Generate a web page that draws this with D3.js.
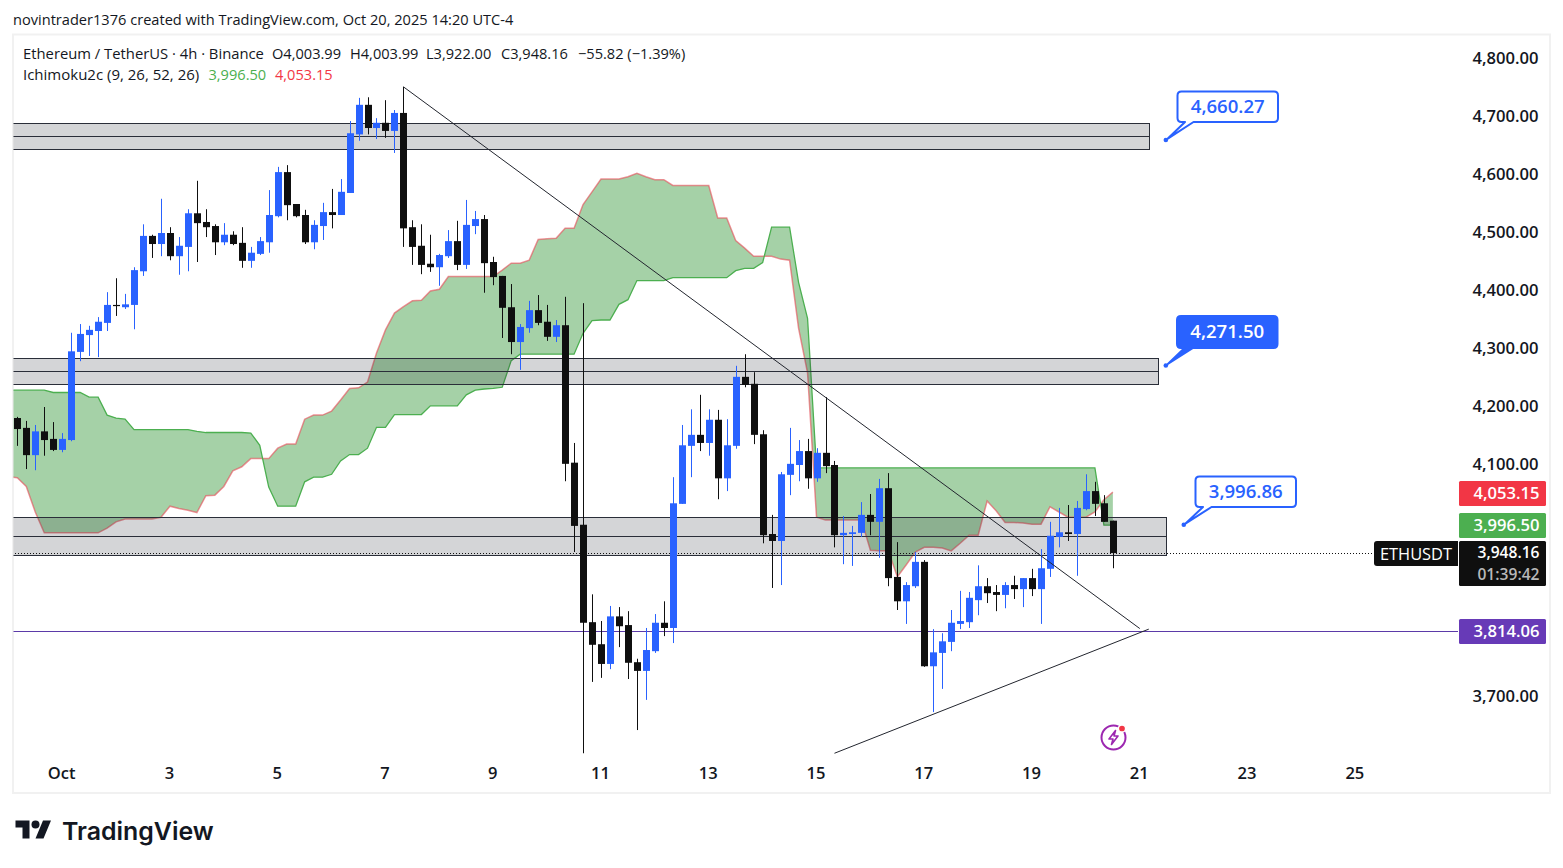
<!DOCTYPE html>
<html><head><meta charset="utf-8">
<script src="https://cdn.jsdelivr.net/npm/d3@7"></script>
<style>
html,body{margin:0;padding:0;background:#fff;overflow:hidden}
svg{display:block}
text{font-family:"Open Sans","Noto Sans",sans-serif;}
</style></head><body><svg id="c" width="1563" height="868"></svg>
<script>
const opens=[4181,4164,4117,4158,4145,4126,4143,4295,4324,4331,4345,4376,4372,4376,4434,4495,4481,4500,4460,4476,4534,4519,4512,4484,4497,4483,4452,4464,4484,4529,4605,4550,4531,4484,4512,4536,4531,4569,4670,4721,4681,4690,4676,4707,4510,4478,4447,4441,4460,4486,4445,4512,4524,4450,4426,4372,4312,4336,4367,4347,4321,4341,4104,3997,3829,3791,3757,3839,3824,3760,3745,3779,3828,3819,4033,4133,4152,4138,4178,4077,4133,4252,4240,4153,3981,3969,4083,4100,4124,4077,4121,4100,3979,3981,3983,4014,4002,4060,3907,3865,3891,3933,3753,3776,3795,3826,3829,3867,3891,3881,3876,3893,3886,3905,3886,3921,3976,3984,3981,4024,4055,4034,4003.99];
const highs=[4183,4176,4169,4200,4174,4155,4328,4343,4340,4355,4398,4422,4395,4441,4515,4497,4559,4510,4493,4541,4590,4541,4515,4517,4503,4510,4476,4493,4574,4614,4617,4550,4540,4522,4552,4576,4593,4693,4733,4734,4698,4729,4712,4752,4522,4515,4497,4464,4505,4521,4557,4538,4531,4459,4426,4412,4343,4383,4393,4376,4350,4390,4138,4379,3877,3831,3857,3855,3848,3766,3819,3843,3865,4079,4169,4196,4221,4196,4195,4179,4271,4291,4260,4160,4014,4088,4164,4143,4145,4129,4217,4107,4012,3995,4036,4050,4076,4086,3967,3898,3950,3936,3817,3810,3850,3883,3881,3927,3905,3893,3898,3909,3905,3921,3955,4002,4026,4031,4038,4084,4071,4048,4003.99];
const lows=[4133,4093,4091,4116,4124,4122,4141,4279,4288,4286,4331,4357,4369,4334,4426,4457,4460,4453,4428,4434,4450,4493,4462,4479,4479,4440,4440,4462,4466,4527,4522,4527,4481,4472,4488,4508,4531,4569,4659,4670,4662,4664,4638,4476,4445,4429,4433,4409,4457,4436,4438,4498,4397,4410,4319,4291,4264,4328,4341,4314,4312,4072,3950,3603,3726,3733,3748,3786,3731,3643,3695,3776,3805,3793,4033,4079,4124,4116,4041,4055,4128,4234,4136,3965,3888,3893,4048,4072,4059,4071,4086,3958,3929,3926,3976,3979,3940,3891,3850,3826,3888,3752,3674,3714,3779,3817,3819,3841,3862,3848,3853,3869,3855,3874,3826,3907,3958,3969,3909,4022,4012,4002,3922];
const closes=[4162,4117,4158,4143,4126,4145,4296,4326,4333,4347,4376,4374,4377,4436,4495,4481,4500,4460,4478,4534,4517,4510,4484,4497,4481,4452,4466,4486,4531,4605,4548,4529,4484,4514,4536,4531,4571,4672,4721,4681,4690,4676,4707,4508,4476,4445,4441,4462,4486,4445,4514,4524,4448,4424,4371,4312,4338,4367,4345,4321,4341,4102,3995,3828,3790,3757,3839,3822,3759,3745,3781,3828,3819,4034,4134,4152,4138,4178,4077,4134,4252,4238,4152,3979,3969,4084,4102,4124,4077,4121,4098,3979,3983,3984,4014,4002,4060,3905,3865,3893,3933,3753,3777,3796,3828,3831,3871,3891,3879,3876,3893,3886,3905,3886,3922,3978,3984,3981,4026,4055,4033,4002,3948.16];
// Ichimoku spans, first value sits one bar before the first candle
const spanA=[4229,4229,4229,4229,4229,4225,4225,4225,4225,4217,4217,4186,4181,4179,4161,4161,4161,4161,4161,4161,4161,4158,4156,4156,4156,4156,4156,4155,4134,4062,4029,4029,4029,4071,4079,4079,4084,4107,4118,4118,4129,4165,4165,4187,4187,4187,4187,4202,4202,4202,4202,4221,4229,4231,4232,4234,4280,4291,4291,4291,4291,4291,4291,4291,4327,4349,4350,4350,4377,4385,4418,4418,4418,4418,4423,4423,4423,4423,4423,4423,4423,4435,4439,4439,4449,4510,4510,4510,4415,4353,4095,4095,4095,4095,4095,4095,4095,4095,4095,4095,4095,4095,4095,4095,4095,4095,4095,4095,4095,4095,4095,4095,4095,4095,4095,4095,4095,4095,4095,4095,4095,4095,3996.5,3996.5];
const spanB=[4080,4078,4063,4019,3983,3983,3983,3983,3983,3983,3983,3991,4002,4007,4007,4007,4007,4010,4029,4025,4022,4018,4047,4048,4063,4090,4097,4111,4111,4111,4129,4136,4136,4179,4186,4186,4193,4212,4232,4233,4243,4293,4333,4362,4373,4383,4384,4400,4403,4425,4425,4425,4425,4425,4425,4436,4448,4448,4453,4489,4490,4491,4508,4508,4549,4571,4593,4593,4593,4597,4603,4597,4592,4592,4582,4582,4582,4582,4582,4526,4526,4487,4474,4460,4460,4460,4455,4453,4336,4259,4010,4005,4005,4005,4005,4005,3953,3952,3952,3907,3928,3950,3958,3958,3957,3952,3965,3979,3979,4038,4021,4001,4001,4000,3998,3998,4028,4019,4010,4010,4010,4019,4040,4053.15];
const priceTicks=[4800,4700,4600,4500,4400,4300,4200,4100,3700];
const dateBars=[5,17,29,41,53,65,77,89,101,113,125,137,149];
const dateLabels=["Oct","3","5","7","9","11","13","15","17","19","21","23","25"];
const zoneTops=[4689,4284,4010];
const zoneMids=[4667,4262,3977];
const zoneBottoms=[4645,4239,3945];
const zoneEnds=[126,127,127.9];
const lastPrice=3948.16, targetPrice=3814.06, spanALast=3996.5, spanBLast=4053.15;
const trendBars=[[43,125],[91,126]];
const trendPrices=[[4752,3818],[3603,3817]];
const calloutLabels=["4,660.27","4,271.50","3,996.86"];
const calloutBars=[127.9,127.9,129.9];
const calloutPrices=[4660.27,4271.5,3996.86];

const BLUE="#2962ff",BLACK="#0f0f0f",INK="#131722";
const W=1563,H=868;
const svg=d3.select("#c");
const x=d3.scaleLinear().domain([0,122]).range([17.3,17.3+8.98*122]);
const y=d3.scaleLinear().domain([4800,3700]).range([59,697]);
const bars=d3.range(opens.length);
const snap=v=>Math.round(v)+.5;

svg.append("rect").attr("x",13).attr("y",34.5).attr("width",1537).attr("height",758.5)
  .attr("fill","#fff").attr("stroke","#f1f1f1").attr("stroke-width",2);
svg.append("defs").append("clipPath").attr("id","pane").append("rect")
  .attr("x",13.5).attr("y",35).attr("width",1444.5).attr("height",757);
const g=svg.append("g").attr("clip-path","url(#pane)");

// Cloud
const spanIdx=d3.range(spanA.length);
g.append("path").datum(spanIdx)
  .attr("d",d3.area().x(i=>x(i-1)).y0(i=>y(spanA[i])).y1(i=>y(spanB[i])))
  .attr("fill","#4ca350").attr("fill-opacity",0.5);
g.append("path").datum(spanIdx)
  .attr("d",d3.line().x(i=>x(i-1)).y(i=>y(spanB[i])))
  .attr("fill","none").attr("stroke","#e64a55").attr("stroke-opacity",.6).attr("stroke-width",1.5);
g.append("path").datum(spanIdx)
  .attr("d",d3.line().x(i=>x(i-1)).y(i=>y(spanA[i])))
  .attr("fill","none").attr("stroke","#4caf50").attr("stroke-width",1.3);

// Zones
zoneTops.forEach((t,i)=>{
  const x1=snap(x(zoneEnds[i]));
  g.append("rect").attr("x",0).attr("y",snap(y(t))).attr("width",x1).attr("height",snap(y(zoneBottoms[i]))-snap(y(t)))
    .attr("fill","rgb(42,46,57)").attr("fill-opacity",.2).attr("stroke","#2a2e39").attr("stroke-width",1);
  g.append("line").attr("x1",0).attr("x2",x1).attr("y1",snap(y(zoneMids[i]))).attr("y2",snap(y(zoneMids[i])))
    .attr("stroke","#2a2e39").attr("stroke-width",1);
});

// price lines
g.append("line").attr("x1",0).attr("x2",1374).attr("y1",snap(y(lastPrice))).attr("y2",snap(y(lastPrice)))
  .attr("stroke","#111").attr("stroke-dasharray","1 2").attr("stroke-width",1);
g.append("line").attr("x1",0).attr("x2",1459).attr("y1",snap(y(targetPrice))).attr("y2",snap(y(targetPrice)))
  .attr("stroke","#5b3aa8").attr("stroke-width",1);

// Candles
const col=i=>closes[i]>=opens[i]?BLUE:BLACK;
const cg=g.append("g");
cg.selectAll("line.w").data(bars).join("line").attr("class","w")
  .attr("x1",i=>Math.round(x(i))+.5).attr("x2",i=>Math.round(x(i))+.5)
  .attr("y1",i=>y(highs[i])).attr("y2",i=>y(lows[i])).attr("stroke",col).attr("stroke-width",1);
cg.selectAll("rect.b").data(bars).join("rect").attr("class","b")
  .attr("x",i=>Math.round(x(i))-3).attr("width",7)
  .attr("y",i=>y(Math.max(opens[i],closes[i])))
  .attr("height",i=>Math.max(1.2,Math.abs(y(opens[i])-y(closes[i])))).attr("fill",col);

// Trend lines
trendBars.forEach((b,i)=>{
  g.append("line").attr("x1",x(b[0])).attr("x2",x(b[1]))
   .attr("y1",y(trendPrices[i][0])).attr("y2",y(trendPrices[i][1]))
   .attr("stroke","#22252e").attr("stroke-width",1);
});

// Axes
const yAxis=d3.axisRight(y).tickValues(priceTicks).tickFormat(d3.format(",.2f")).tickSize(0).tickPadding(0);
const ya=svg.append("g").attr("transform","translate(1538.5,0)").call(yAxis);
ya.select(".domain").remove();
ya.selectAll("text").attr("x",0).attr("dy","-2px").attr("dominant-baseline","central").attr("text-anchor","end")
  .attr("fill",INK).style("font-size","16.6px").style("font-weight",600).style("font-family",'"Open Sans"');
const xAxis=d3.axisBottom(x).tickValues(dateBars).tickFormat((d,i)=>dateLabels[i]).tickSize(0).tickPadding(0);
const xa=svg.append("g").attr("transform","translate(-1,772)").call(xAxis);
xa.select(".domain").remove();
xa.selectAll("text").attr("y",0).attr("dy",0).attr("dominant-baseline","central")
  .attr("fill",INK).style("font-size","16.5px").style("font-weight",600).style("font-family",'"Open Sans"');

// Right labels
function tag(top,h,fill,txt,col2){
  svg.append("rect").attr("x",1459).attr("y",top).attr("width",87).attr("height",h).attr("rx",1.5).attr("fill",fill);
  if(txt) svg.append("text").attr("x",1539.5).attr("y",top+11.5).attr("dominant-baseline","central").attr("text-anchor","end")
    .attr("fill",col2||"#fff").style("font-size","16.6px").style("font-weight",600).text(txt);
}
const fmt=d3.format(",.2f");
tag(481,25,"#f23645",fmt(spanBLast));
tag(513,25,"#4caf50",fmt(spanALast));
tag(541,45,BLACK,null);
const textStyle=(s,yp,fill,str)=>s.append("text").attr("x",1539.5).attr("y",yp).attr("dominant-baseline","central").attr("text-anchor","end")
  .attr("fill",fill).style("font-size","15.6px").style("font-weight",600).text(str);
textStyle(svg,552,"#fff",fmt(lastPrice));
textStyle(svg,574,"#b8b8b8","01:39:42");
tag(619,25,"#673ab7",fmt(targetPrice));
svg.append("path").attr("d","M1458 541H1377a3 3 0 0 0 -3 3V563a3 3 0 0 0 3 3H1458Z").attr("fill",BLACK);
svg.append("text").attr("x",1416).attr("y",553).attr("dominant-baseline","central").attr("text-anchor","middle")
  .attr("fill","#fff").style("font-size","16.4px").style("font-weight",500).text("ETHUSDT");

// Callouts
const boxes=[{bx:1177.5,by:91.5,h:30.5,filled:false},{bx:1177,by:316,h:32,filled:true},{bx:1195.5,by:476.5,h:30.5,filled:false}];
boxes.forEach((b,i)=>{
  const tx=x(calloutBars[i]),ty=y(calloutPrices[i]);
  const w=100.5, fill=b.filled?BLUE:"#fff";
  const gg=svg.append("g");
  const p=d3.path();
  const r=4, bb=b.by+b.h;
  p.moveTo(b.bx+r,b.by);p.lineTo(b.bx+w-r,b.by);p.quadraticCurveTo(b.bx+w,b.by,b.bx+w,b.by+r);
  p.lineTo(b.bx+w,bb-r);p.quadraticCurveTo(b.bx+w,bb,b.bx+w-r,bb);
  p.lineTo(b.bx+16,bb);p.lineTo(tx+2,ty-1.5);p.lineTo(b.bx+7.5,bb);
  p.lineTo(b.bx+r,bb);p.quadraticCurveTo(b.bx,bb,b.bx,bb-r);p.lineTo(b.bx,b.by+r);p.quadraticCurveTo(b.bx,b.by,b.bx+r,b.by);p.closePath();
  gg.append("path").attr("d",p.toString()).attr("fill",fill).attr("stroke",BLUE).attr("stroke-width",2).attr("stroke-linejoin","round");
  gg.append("circle").attr("cx",tx).attr("cy",ty).attr("r",2.3).attr("fill",BLUE);
  gg.append("text").attr("x",b.bx+w/2).attr("y",b.by+b.h/2-1.5).attr("dominant-baseline","central").attr("text-anchor","middle")
    .attr("fill",b.filled?"#fff":BLUE).style("font-size","18.6px").style("font-weight",600).text(calloutLabels[i]);
});

// Header and legend
const t=(xp,yp,s,fill,size,w)=>svg.append("text").attr("x",xp).attr("y",yp).attr("dominant-baseline","central")
  .attr("fill",fill||INK).style("font-size",(size||14.6)+"px").style("font-weight",w||400).text(s);
t(13,19,"novintrader1376 created with TradingView.com, Oct 20, 2025 14:20 UTC-4");
t(23,53,"Ethereum / TetherUS · 4h · Binance",INK,14.8);
t(272,53,"O4,003.99");t(350,53,"H4,003.99");t(426,53,"L3,922.00");t(501,53,"C3,948.16");t(578,53,"−55.82 (−1.39%)");
t(23,73.5,"Ichimoku2c (9, 26, 52, 26)",INK,15);
t(208.5,73.5,fmt(spanALast),"#4caf50");t(275,73.5,fmt(spanBLast),"#f23645");

// Lightning icon
const ic=svg.append("g").attr("transform","translate(1113.5,737.5)");
ic.append("circle").attr("r",12).attr("fill","none").attr("stroke","#9c27b0").attr("stroke-width",2);
ic.append("path").attr("d","M2 -7L-4.5 1.5H-0.5L-2 7L4.5 -1.5H0.5Z").attr("fill","none").attr("stroke","#9c27b0").attr("stroke-width",1.6).attr("stroke-linejoin","round");
ic.append("circle").attr("cx",8.5).attr("cy",-9).attr("r",3.6).attr("fill","#f23645").attr("stroke","#fff").attr("stroke-width",1.5);

// Logo
const lg=svg.append("g").attr("transform","translate(15.5,816.5)").attr("fill",INK);
lg.append("path").attr("d","M14 22H7V11H0V4h14v18zM28 22h-8l7.5-18h8L28 22z");
lg.append("circle").attr("cx",20).attr("cy",8).attr("r",4);
svg.append("text").attr("x",62).attr("y",831).attr("dominant-baseline","central").attr("fill",INK)
  .style("font-family","Inter").style("font-size","24.9px").style("font-weight",600).text("TradingView");
</script></body></html>
